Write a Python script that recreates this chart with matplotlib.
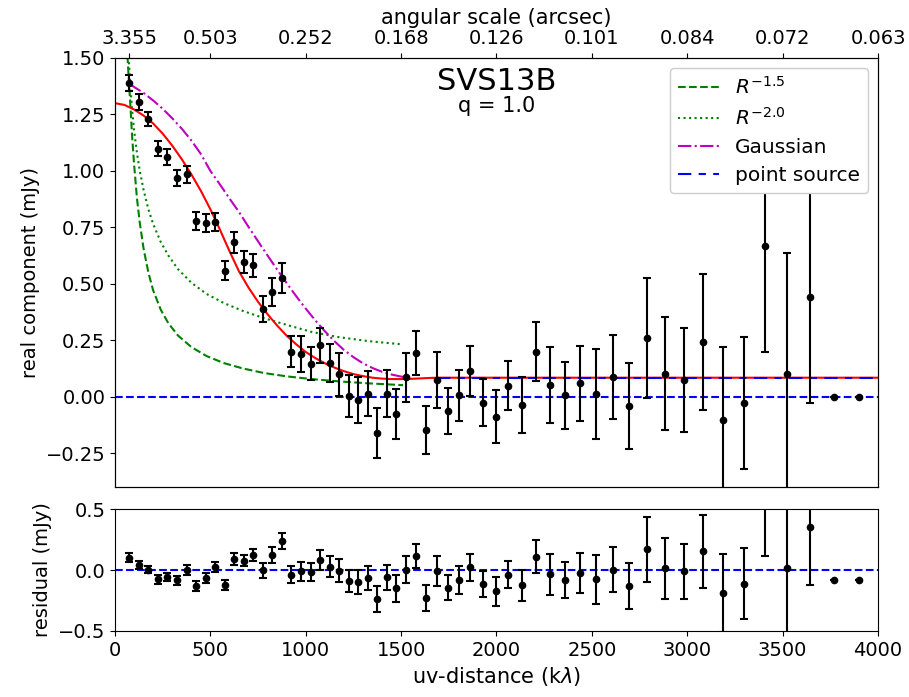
import numpy as np
import matplotlib
matplotlib.use('Agg')
import matplotlib.pyplot as plt

plt.rcParams['font.size'] = 14

# binned real part of the visibilities (uv-distance in klambda, mJy)
uvdist = [75, 125, 175, 225, 275, 325, 375, 425, 475, 525,
          575, 625, 675, 725, 775, 825, 875, 925, 975, 1025,
          1075, 1125, 1175, 1225, 1275, 1325, 1375, 1425, 1475, 1525,
          1576, 1630, 1688, 1746, 1803, 1861, 1929, 1996, 2062, 2132,
          2207, 2281, 2359, 2438, 2522, 2609, 2696, 2787, 2883, 2981,
          3083, 3189, 3297, 3409, 3524, 3645, 3771, 3899]
real = [1.388, 1.304, 1.230, 1.099, 1.061, 0.968, 0.984, 0.776, 0.769, 0.774,
        0.558, 0.683, 0.597, 0.581, 0.389, 0.462, 0.527, 0.199, 0.190, 0.146,
        0.227, 0.149, 0.099, 0.003, -0.015, 0.013, -0.161, 0.013, -0.077, 0.085,
        0.193, -0.149, 0.074, -0.063, 0.006, 0.112, -0.027, -0.088, 0.049, -0.038,
        0.200, 0.053, 0.006, 0.060, 0.013, 0.088, -0.043, 0.261, 0.102, 0.074,
        0.242, -0.102, -0.027, 0.668, 0.100, 0.440, 0.000, 0.000]
err = [0.035, 0.035, 0.032, 0.035, 0.035, 0.037, 0.039, 0.040, 0.041, 0.041,
       0.042, 0.048, 0.048, 0.049, 0.058, 0.062, 0.067, 0.068, 0.080, 0.074,
       0.079, 0.085, 0.094, 0.092, 0.100, 0.100, 0.109, 0.104, 0.112, 0.110,
       0.099, 0.107, 0.123, 0.102, 0.113, 0.111, 0.105, 0.117, 0.110, 0.125,
       0.132, 0.168, 0.148, 0.166, 0.200, 0.185, 0.190, 0.266, 0.250, 0.229,
       0.300, 0.320, 0.293, 0.468, 0.537, 0.470, 0.000, 0.000]
resid = [0.102, 0.042, 0.004, -0.077, -0.058, -0.085, 0.000, -0.129, -0.064, 0.023,
         -0.120, 0.088, 0.077, 0.123, -0.004, 0.123, 0.240, -0.039, -0.012, -0.020,
         0.083, 0.028, -0.007, -0.091, -0.099, -0.066, -0.237, -0.061, -0.150, 0.004,
         0.115, -0.226, -0.007, -0.145, -0.080, 0.023, -0.115, -0.175, -0.038, -0.126,
         0.110, -0.034, -0.085, -0.023, -0.075, 0.002, -0.131, 0.169, 0.015, -0.012,
         0.153, -0.185, -0.112, 0.583, 0.013, 0.351, -0.085, -0.085]

# best-fit model (red)
fit_u = [0, 50, 100, 150, 200, 250, 300, 350, 400, 450, 500, 550, 600, 650,
         700, 750, 800, 850, 900, 950, 1000, 1050, 1100, 1150, 1200, 1250,
         1300, 1350, 1400, 1450, 1500, 1550, 1600, 1650, 1700, 4000]
fit_v = [1.300, 1.292, 1.272, 1.245, 1.210, 1.165, 1.112, 1.052, 0.985, 0.912,
         0.830, 0.740, 0.645, 0.555, 0.483, 0.420, 0.365, 0.315, 0.270, 0.232,
         0.198, 0.171, 0.148, 0.129, 0.113, 0.100, 0.091, 0.084, 0.080, 0.078,
         0.078, 0.079, 0.081, 0.083, 0.084, 0.084]

# power-law disc profiles
p15_u = [62, 70, 80, 90, 100, 115, 130, 150, 175, 200, 240, 280, 330, 400,
         480, 570, 670, 780, 900, 1030, 1170, 1330, 1510]
p15_v = [1.56, 1.44, 1.30, 1.15, 1.03, 0.88, 0.77, 0.655, 0.55, 0.471, 0.385,
         0.325, 0.271, 0.220, 0.180, 0.149, 0.125, 0.105, 0.090, 0.078, 0.068,
         0.059, 0.051]
p20_u = [70, 80, 90, 100, 115, 130, 150, 175, 200, 240, 280, 330, 400, 480,
         570, 670, 780, 900, 1030, 1170, 1330, 1500]
p20_v = [1.53, 1.38, 1.27, 1.18, 1.08, 1.00, 0.915, 0.83, 0.765, 0.685, 0.625,
         0.565, 0.505, 0.455, 0.415, 0.380, 0.348, 0.318, 0.287, 0.264, 0.246,
         0.232]

# gaussian profile
gauss_u = [75, 150, 200, 250, 300, 350, 400, 450, 500, 550, 600, 650, 700, 750,
           800, 850, 900, 950, 1000, 1050, 1100, 1150, 1200, 1250, 1300, 1350,
           1400, 1450, 1500, 1525]
gauss_v = [1.385, 1.345, 1.312, 1.275, 1.233, 1.187, 1.135, 1.075, 1.000, 0.940,
           0.878, 0.818, 0.752, 0.688, 0.625, 0.563, 0.503, 0.445, 0.390, 0.338,
           0.290, 0.246, 0.207, 0.175, 0.148, 0.127, 0.110, 0.098, 0.089, 0.086]

# unresolved component
ps_u = [1690, 4000]
ps_v = [0.084, 0.084]

# angular scale axis
top_ticks = [75, 500, 1000, 1500, 2000, 2500, 3000, 3500, 4000]
top_labels = ['3.355', '0.503', '0.252', '0.168', '0.126', '0.101',
              '0.084', '0.072', '0.063']

fig = plt.figure(figsize=(9.09, 6.97), dpi=100)
ax = fig.add_axes([0.1265, 0.3013, 0.8394, 0.6155])
axr = fig.add_axes([0.1265, 0.0947, 0.8394, 0.175])

ax.plot(p15_u, p15_v, 'g--', lw=1.5, label=r'$R^{-1.5}$')
ax.plot(p20_u, p20_v, 'g:', lw=1.5, label=r'$R^{-2.0}$')
ax.plot(fit_u, fit_v, 'r-', lw=1.5)
ax.plot(gauss_u, gauss_v, 'm-.', lw=1.5, label='Gaussian')
ax.plot(ps_u, ps_v, color='b', ls=(0, (6.4, 3.5, 3.5, 3.5)), lw=1.5,
        label='point source')
ax.axhline(0, color='b', ls='--', lw=1.5)
ax.errorbar(uvdist, real, yerr=err, fmt='ko', ms=4.5, capsize=3,
            elinewidth=1.5, capthick=1.5)

ax.set_xlim(0, 4000)
ax.set_ylim(-0.4, 1.5)
ax.set_yticks([-0.25, 0, 0.25, 0.5, 0.75, 1.0, 1.25, 1.5])
ax.set_ylabel('real component (mJy)')
ax.legend(loc='upper right', framealpha=1, fontsize=14.5, labelspacing=0.45)
ax.text(0.5, 0.945, 'SVS13B', transform=ax.transAxes, ha='center',
        va='center', fontsize=22)
ax.text(0.5, 0.887, 'q = 1.0', transform=ax.transAxes, ha='center',
        va='center', fontsize=15)

top = ax.twiny()
top.set_xlim(0, 4000)
top.set_xticks(top_ticks)
top.set_xticklabels(top_labels)
top.set_xlabel('angular scale (arcsec)', fontsize=15)
# twiny puts the bottom ticks back, so hide them afterwards
ax.tick_params(axis='x', bottom=False, labelbottom=False)

axr.axhline(0, color='b', ls='--', lw=1.5)
axr.errorbar(uvdist, resid, yerr=err, fmt='ko', ms=4.5, capsize=3,
             elinewidth=1.5, capthick=1.5)
axr.set_xlim(0, 4000)
axr.set_ylim(-0.5, 0.5)
axr.set_yticks([-0.5, 0, 0.5])
axr.set_xlabel(r'uv-distance (k$\lambda$)', fontsize=15)
axr.set_ylabel('residual (mJy)')

fig.savefig('out.png', dpi=100)
